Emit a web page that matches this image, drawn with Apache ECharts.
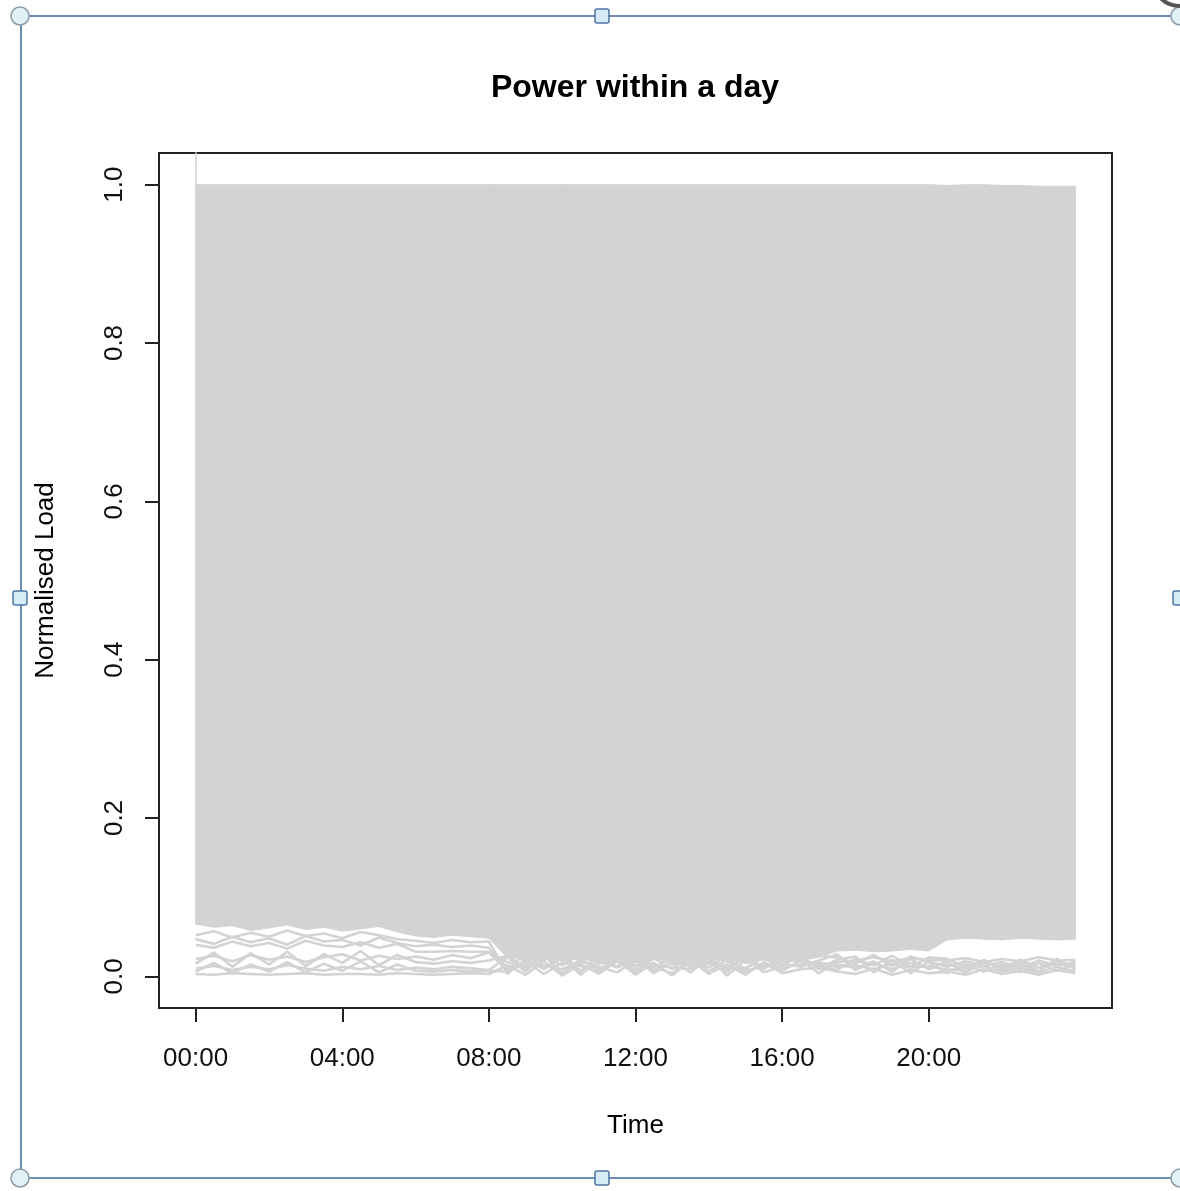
<!DOCTYPE html>
<html>
<head>
<meta charset="utf-8">
<title>Power within a day</title>
<script src="https://cdn.jsdelivr.net/npm/echarts@6/dist/echarts.min.js"></script>
<style>
html,body{margin:0;padding:0;background:#fff;}
#main{width:1180px;height:1191px;}
</style>
</head>
<body>
<div id="main"></div>
<script>
/* 时间轴：半小时一个点 */
var halfHours = [0,0.5,1,1.5,2,2.5,3,3.5,4,4.5,5,5.5,
	6,6.5,7,7.5,8,8.5,9,9.5,10,10.5,11,11.5,
	12,12.5,13,13.5,14,14.5,15,15.5,16,16.5,17,17.5,
	18,18.5,19,19.5,20,20.5,21,21.5,22,22.5,23,23.5,24];
var tickHours = [0,4,8,12,16,20];
var tickLabels = ['00:00','04:00','08:00','12:00','16:00','20:00'];
var loadTicks = [0,0.2,0.4,0.6,0.8,1.0];

// 上包络线（所有曲线最大值）
var peakLoad = [1.0,1.0,1.0,1.0,1.0,1.0,1.0,1.0,1.0,1.0,1.0,1.0,
	1.0,1.0,1.0,1.0,1.0,1.0,1.0,1.0,1.0,1.0,1.0,1.0,
	1.0,1.0,1.0,1.0,1.0,1.0,1.0,1.0,1.0,1.0,1.0,1.0,
	1.0,1.0,1.0,1.0,1.0,0.999,1.0,1.0,0.999,0.999,0.998,0.998,0.998];
// 曲线密集区的下沿
var denseFloor = [0.066,0.062,0.064,0.058,0.061,0.065,0.059,0.062,0.057,0.060,0.063,0.056,
	0.051,0.049,0.052,0.050,0.048,0.024,0.020,0.023,0.019,0.022,0.018,0.021,
	0.017,0.022,0.020,0.018,0.023,0.019,0.021,0.022,0.018,0.020,0.024,0.032,
	0.033,0.031,0.032,0.034,0.032,0.046,0.048,0.047,0.046,0.048,0.047,0.046,0.047];

// 低负荷用户曲线
var lowA = [0.003,0.002,0.004,0.003,0.002,0.003,0.004,0.002,0.003,0.003,0.002,0.004,
	0.003,0.002,0.003,0.004,0.003,0.014,0.002,0.019,0.001,0.016,0.003,0.020,
	0.002,0.017,0.001,0.021,0.003,0.015,0.002,0.018,0.004,0.009,0.011,0.006,
	0.003,0.010,0.002,0.008,0.004,0.006,0.002,0.009,0.003,0.007,0.002,0.008,0.004];
var lowB = [0.010,0.013,0.008,0.012,0.009,0.014,0.010,0.007,0.012,0.009,0.013,0.008,
	0.011,0.009,0.012,0.010,0.008,0.024,0.006,0.027,0.004,0.022,0.008,0.026,
	0.005,0.023,0.009,0.028,0.006,0.021,0.010,0.025,0.007,0.020,0.015,0.012,
	0.014,0.009,0.016,0.011,0.013,0.015,0.010,0.017,0.012,0.014,0.011,0.016,0.013];
var lowC = [0.022,0.026,0.019,0.027,0.021,0.025,0.018,0.024,0.028,0.020,0.026,0.022,
	0.025,0.021,0.027,0.023,0.030,0.008,0.029,0.010,0.026,0.005,0.028,0.012,
	0.027,0.007,0.030,0.011,0.025,0.006,0.029,0.009,0.026,0.022,0.004,0.018,
	0.020,0.024,0.019,0.023,0.021,0.020,0.023,0.018,0.022,0.019,0.024,0.020,0.021];
var lowD = [0.040,0.036,0.044,0.038,0.042,0.035,0.045,0.039,0.037,0.043,0.036,0.041,
	0.031,0.031,0.032,0.031,0.031,0.018,0.012,0.025,0.014,0.028,0.016,0.021,
	0.013,0.026,0.015,0.024,0.011,0.027,0.017,0.022,0.014,0.028,0.026,0.024,
	0.016,0.027,0.013,0.025,0.018,0.004,0.016,0.006,0.015,0.005,0.017,0.007,0.016];
var lowE = [0.052,0.057,0.049,0.055,0.050,0.058,0.051,0.054,0.048,0.056,0.052,0.047,
	0.045,0.042,0.046,0.043,0.044,0.003,0.022,0.009,0.024,0.002,0.020,0.011,
	0.023,0.004,0.019,0.013,0.024,0.001,0.021,0.012,0.022,0.019,0.013,0.008,
	0.022,0.014,0.026,0.012,0.024,0.022,0.012,0.020,0.010,0.021,0.011,0.019,0.012];
var lowF = [0.016,0.030,0.012,0.029,0.015,0.031,0.013,0.028,0.017,0.032,0.014,0.027,
	0.018,0.016,0.019,0.017,0.020,0.026,0.010,0.021,0.029,0.007,0.025,0.018,
	0.009,0.028,0.020,0.005,0.024,0.019,0.008,0.027,0.016,0.012,0.020,0.028,
	0.008,0.019,0.006,0.022,0.009,0.019,0.004,0.021,0.008,0.018,0.006,0.022,0.009];
var lowG = [0.047,0.041,0.050,0.043,0.048,0.040,0.051,0.044,0.046,0.039,0.049,0.042,
	0.038,0.040,0.037,0.039,0.036,0.011,0.019,0.003,0.017,0.013,0.006,0.022,
	0.014,0.012,0.004,0.018,0.016,0.010,0.023,0.005,0.013,0.027,0.009,0.021,
	0.025,0.005,0.021,0.004,0.019,0.012,0.019,0.013,0.018,0.010,0.020,0.013,0.018];
var lowH = [0.006,0.017,0.004,0.015,0.006,0.018,0.005,0.016,0.007,0.019,0.005,0.015,
	0.007,0.006,0.008,0.006,0.007,0.006,0.016,0.014,0.009,0.019,0.012,0.005,
	0.020,0.015,0.011,0.009,0.019,0.013,0.006,0.014,0.011,0.015,0.017,0.015,
	0.011,0.016,0.009,0.017,0.012,0.009,0.007,0.013,0.006,0.011,0.005,0.012,0.006];
// 0点处超出上边界的那条线
var spikeTimes = [0,0.01];
var spikeValues = [1.3,0.97];

var lineGrey = '#d3d3d3';
var fontName = 'Liberation Sans, Arial, sans-serif';

function pairUp(xs,ys){
	var arr = [];
	for(var i=0;i<xs.length;i++){
		arr.push([xs[i],ys[i]]);
	}
	return arr;
}

// 每个时间段一个梯形：[t0, 下沿0, 上沿0, t1, 下沿1, 上沿1]
function bandSegments(){
	var arr = [];
	for(var i=0;i<halfHours.length-1;i++){
		arr.push([halfHours[i],denseFloor[i],peakLoad[i],halfHours[i+1],denseFloor[i+1],peakLoad[i+1]]);
	}
	return arr;
}

function renderBand(params,api){
	var p1 = api.coord([api.value(0),api.value(2)]);
	var p2 = api.coord([api.value(3),api.value(5)]);
	var p3 = api.coord([api.value(3),api.value(4)]);
	var p4 = api.coord([api.value(0),api.value(1)]);
	return {
		type:'polygon',
		shape:{points:[p1,p2,p3,p4]},
		style:{fill:lineGrey,stroke:lineGrey,lineWidth:1}
	};
}

function lowSeries(name,values){
	return {
		name:name,
		type:'line',
		data:pairUp(halfHours,values),
		symbol:'none',
		silent:true,
		z:3,
		lineStyle:{color:lineGrey,width:2.6}
	};
}

// 选中框的装饰（句柄）
function frameGraphics(){
	var frameColor = '#6d8cb3';
	var g = [
		{type:'line',shape:{x1:20,y1:16,x2:1180,y2:16},style:{stroke:frameColor,lineWidth:2}},
		{type:'line',shape:{x1:20,y1:1178,x2:1180,y2:1178},style:{stroke:frameColor,lineWidth:2}},
		{type:'line',shape:{x1:21,y1:16,x2:21,y2:1178},style:{stroke:frameColor,lineWidth:2}}
	];
	var corners = [[20,16],[1180,16],[20,1178],[1180,1178]];
	for(var i=0;i<corners.length;i++){
		g.push({type:'circle',shape:{cx:corners[i][0],cy:corners[i][1],r:9},
			style:{fill:'#e2f1f6',stroke:'#8b9aa6',lineWidth:1.5},z:10});
	}
	var mids = [[602,16],[20,598],[602,1178],[1180,598]];
	for(var j=0;j<mids.length;j++){
		g.push({type:'rect',shape:{x:mids[j][0]-7,y:mids[j][1]-7,width:14,height:14,r:2},
			style:{fill:'#d6edf8',stroke:'#4f76a3',lineWidth:1.5},z:10});
	}
	g.push({type:'arc',shape:{cx:1180,cy:-22,r:28,startAngle:Math.PI*0.5,endAngle:Math.PI},
		style:{stroke:'#555',lineWidth:4,fill:null},z:10});
	return g;
}

var myChart = echarts.init(document.getElementById('main'),null,{renderer:'canvas'});
var option = {
	backgroundColor:'#fff',
	animation:false,
	title:{
		text:'Power within a day',
		left:635,
		textAlign:'center',
		top:72,
		padding:0,
		textStyle:{fontFamily:fontName,fontSize:32,fontWeight:'bold',color:'#000'}
	},
	grid:{
		left:159,
		top:153,
		right:68,
		bottom:183,
		show:true,
		borderColor:'#222',
		borderWidth:2,
		backgroundColor:'transparent'
	},
	xAxis:{
		type:'value',
		min:-1.0,
		max:25.0,
		name:'Time',
		nameLocation:'middle',
		nameGap:105,
		nameTextStyle:{fontFamily:fontName,fontSize:26,color:'#000'},
		axisLine:{show:true,onZero:false,lineStyle:{color:'#222',width:2}},
		axisTick:{show:true,length:14,customValues:tickHours,lineStyle:{color:'#222',width:2}},
		axisLabel:{
			margin:38,
			customValues:tickHours,
			fontFamily:fontName,fontSize:26,color:'#111',
			formatter:function(v){
				var idx = tickHours.indexOf(v);
				return idx>=0 ? tickLabels[idx] : '';
			}
		},
		splitLine:{show:false}
	},
	yAxis:{
		type:'value',
		min:-0.04,
		max:1.04,
		name:'Normalised Load',
		nameLocation:'middle',
		nameGap:100,
		nameTextStyle:{fontFamily:fontName,fontSize:26,color:'#000'},
		axisLine:{show:true,onZero:false,lineStyle:{color:'#222',width:2}},
		axisTick:{show:true,length:14,customValues:loadTicks,lineStyle:{color:'#222',width:2}},
		axisLabel:{
			margin:31,
			rotate:90,
			customValues:loadTicks,
			fontFamily:fontName,fontSize:26,color:'#111',
			formatter:function(v){return v.toFixed(1);}
		},
		splitLine:{show:false}
	},
	graphic:frameGraphics(),
	series:[
		{
			name:'band',
			type:'custom',
			renderItem:renderBand,
			data:bandSegments(),
			encode:{x:[0,3],y:[1,2,4,5]},
			silent:true,
			z:2
		},
		lowSeries('lowA',lowA),
		lowSeries('lowB',lowB),
		lowSeries('lowC',lowC),
		lowSeries('lowD',lowD),
		lowSeries('lowE',lowE),
		lowSeries('lowF',lowF),
		lowSeries('lowG',lowG),
		lowSeries('lowH',lowH),
		{
			name:'spike',
			type:'line',
			data:pairUp(spikeTimes,spikeValues),
			symbol:'none',
			silent:true,
			lineStyle:{color:lineGrey,width:1.5},
			z:3
		}
	]
};
myChart.setOption(option);
</script>
</body>
</html>
